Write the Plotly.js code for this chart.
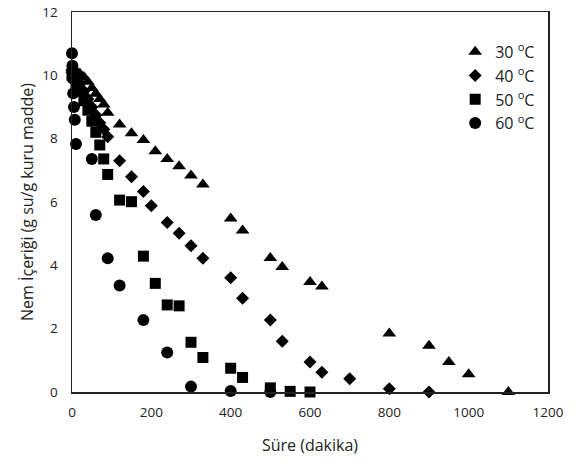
<!DOCTYPE html>
<html>
<head>
<meta charset="utf-8">
<script src="https://cdn.plot.ly/plotly-3.0.1.min.js"></script>
<style>html,body{margin:0;padding:0;background:#fff;}#chart{width:579px;height:464px;}</style>
</head>
<body>
<div id="chart"></div>
<script>
// Time (minutes) and moisture content (g water / g dry matter)
var t30 = [0,10,20,30,40,50,60,70,80,90,120,150,180,210,240,270,300,330,400,430,500,530,600,630,800,900,950,1000,1100];
var y30 = [10.25,10.15,10.05,9.95,9.8,9.6,9.42,9.25,9.08,8.82,8.45,8.17,7.96,7.6,7.36,7.13,6.84,6.55,5.48,5.1,4.23,3.95,3.47,3.33,1.85,1.46,0.95,0.56,0];

var t40 = [0,10,20,30,40,50,60,70,80,90,120,150,180,200,240,270,300,330,400,430,500,530,600,630,700,800,900];
var y40 = [10.1,9.95,9.75,9.5,9.25,9.0,8.75,8.5,8.3,8.06,7.3,6.8,6.33,5.88,5.35,5.01,4.62,4.22,3.61,2.96,2.27,1.6,0.95,0.62,0.42,0.1,0];

var t50 = [0,10,20,30,40,50,60,70,80,90,120,150,180,210,240,270,300,330,400,430,500,550,600];
var y50 = [10.0,9.75,9.5,9.2,8.9,8.55,8.2,7.8,7.36,6.87,6.06,6.01,4.29,3.43,2.75,2.72,1.57,1.09,0.75,0.46,0.13,0.02,0];

var t60 = [0,1,2,3,5,7,10,50,60,90,120,180,240,300,400,500];
var y60 = [10.7,10.3,9.9,9.43,9.0,8.6,7.83,7.36,5.59,4.22,3.36,2.27,1.25,0.17,0.03,0];

var seriesNames = ['30 <sup>o</sup>C','40 <sup>o</sup>C','50 <sup>o</sup>C','60 <sup>o</sup>C'];
var xTicks = [0,200,400,600,800,1000,1200];
var yTicks = [0,2,4,6,8,10,12];

var FONT = 'Open Sans, Lato, sans-serif';

function tr(x, y, name, symbol, size) {
  return {
    x: x, y: y, name: name, type: 'scatter', mode: 'markers',
    marker: {symbol: symbol, size: size, color: '#000'},
    cliponaxis: false
  };
}

var data = [
  tr(t30, y30, seriesNames[0], 'triangle-up', 12),
  tr(t40, y40, seriesNames[1], 'diamond', 10),
  tr(t50, y50, seriesNames[2], 'square', 11),
  tr(t60, y60, seriesNames[3], 'circle', 12)
];

var layout = {
  width: 579, height: 464,
  margin: {l: 72, r: 31, t: 12, b: 72},
  paper_bgcolor: '#fff', plot_bgcolor: '#fff',
  font: {family: FONT, size: 13, color: '#222'},
  showlegend: true,
  legend: {
    x: 0.805, y: 0.94, xanchor: 'left', yanchor: 'top',
    bgcolor: 'rgba(0,0,0,0)', font: {family: FONT, size: 16, color: '#222'},
    itemwidth: 30, tracegroupgap: 0
  },
  xaxis: {
    range: [0, 1200], tickvals: xTicks, ticktext: xTicks.map(String),
    showgrid: false, zeroline: false,
    showline: true, linecolor: '#222', linewidth: 1.5, mirror: true,
    ticks: '', ticklabelstandoff: 7,
    tickfont: {family: FONT, size: 13.5, color: '#222'},
    title: {text: 'Süre (dakika)', font: {family: FONT, size: 16, color: '#222'}, standoff: 20}
  },
  yaxis: {
    range: [0, 12], tickvals: yTicks, ticktext: yTicks.map(String),
    showgrid: false, zeroline: false,
    showline: true, linecolor: '#222', linewidth: 1.5, mirror: true,
    ticks: '', ticklabelstandoff: 10,
    tickfont: {family: FONT, size: 13.5, color: '#222'},
    title: {text: 'Nem İçeriği (g su/g kuru madde)', font: {family: FONT, size: 16, color: '#222'}, standoff: 4}
  }
};

Plotly.newPlot('chart', data, layout, {displayModeBar: false, staticPlot: true});
</script>
</body>
</html>
